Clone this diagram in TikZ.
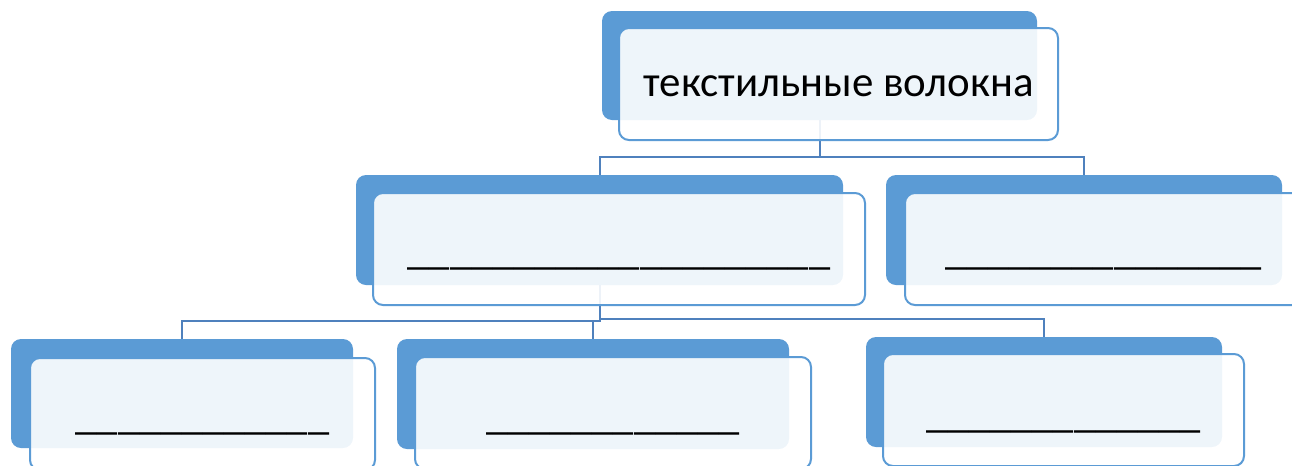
\documentclass[tikz,border=0pt]{standalone}
\usepackage{fontspec}
\setmainfont{Carlito}
\begin{document}
\begin{tikzpicture}[x=0.75pt,y=-0.75pt,
  every node/.style={inner sep=0pt,outer sep=0pt},
  backbox/.style={anchor=north west,rectangle,rounded corners=7.5pt,
    fill=backblue,minimum width=#1},
  backbox/.default=100pt,
  frontbox/.style={anchor=north west,rectangle,rounded corners=7.5pt,
    fill=white,fill opacity=0.9,draw=backblue,draw opacity=1,line width=1.5pt},
  link/.style={draw=linkblue,line width=1.5pt},
  title/.style={anchor=base,font=\fontsize{32.2}{38}\selectfont},
  blank/.style={anchor=base,font=\fontsize{31.8}{38}\selectfont},
]
\definecolor{backblue}{RGB}{91,155,213}
\definecolor{linkblue}{RGB}{79,129,189}
\useasboundingbox (0,0) rectangle (1292,465);
\clip (0,0) rectangle (1292,465);

% back plates
\node[backbox=435*0.75pt,minimum height=109*0.75pt] (b0) at (602,11) {};
\node[backbox=487*0.75pt,minimum height=110*0.75pt] (b1) at (356,175) {};
\node[backbox=396*0.75pt,minimum height=110*0.75pt] (b2) at (886,175) {};
\node[backbox=342*0.75pt,minimum height=109*0.75pt] (b3) at (11,339) {};
\node[backbox=392*0.75pt,minimum height=110*0.75pt] (b4) at (397,339) {};
\node[backbox=356*0.75pt,minimum height=110*0.75pt] (b5) at (866,337) {};

% elbow connectors
\draw[link] (b0.south) -- ++(0,37) -| (b1.north);
\draw[link] (b0.south) -- ++(0,37) -| (b2.north);
\draw[link] (b1.south) -- ++(0,36) -| (b3.north);
\draw[link] (b1.south) -- ++(0,36) -| (b4.north);
\draw[link] (b1.south) -- ++(0,34) -| (b5.north);

% front cards
\node[frontbox,minimum width=439*0.75pt,minimum height=112*0.75pt] (f0) at (619,28) {};
\node[frontbox,minimum width=492*0.75pt,minimum height=112*0.75pt] (f1) at (373,193) {};
\node[frontbox,minimum width=397*0.75pt,minimum height=112*0.75pt] (f2) at (905,193) {};
\node[frontbox,minimum width=345*0.75pt,minimum height=112*0.75pt] (f3) at (30,358) {};
\node[frontbox,minimum width=396*0.75pt,minimum height=112*0.75pt] (f4) at (415,357) {};
\node[frontbox,minimum width=361*0.75pt,minimum height=112*0.75pt] (f5) at (883,354) {};

% texts
\node[title] (t0) at (f0.center |- 0,96.7) {текстильные волокна};
\node[blank] (t1) at (f1.center |- 0,264.5) {\_\_\_\_\_\_\_\_\_\_\_\_\_\_\_\_\_\_\_\_};
\node[blank] (t2) at (f2.center |- 0,264.5) {\_\_\_\_\_\_\_\_\_\_\_\_\_\_\_};
\node[blank] (t3) at (f3.center |- 0,429.5) {\_\_\_\_\_\_\_\_\_\_\_\_};
\node[blank] (t4) at (f4.center |- 0,429.5) {\_\_\_\_\_\_\_\_\_\_\_\_};
\node[blank] (t5) at (f5.center |- 0,427.5) {\_\_\_\_\_\_\_\_\_\_\_\_\_};
\end{tikzpicture}
\end{document}
